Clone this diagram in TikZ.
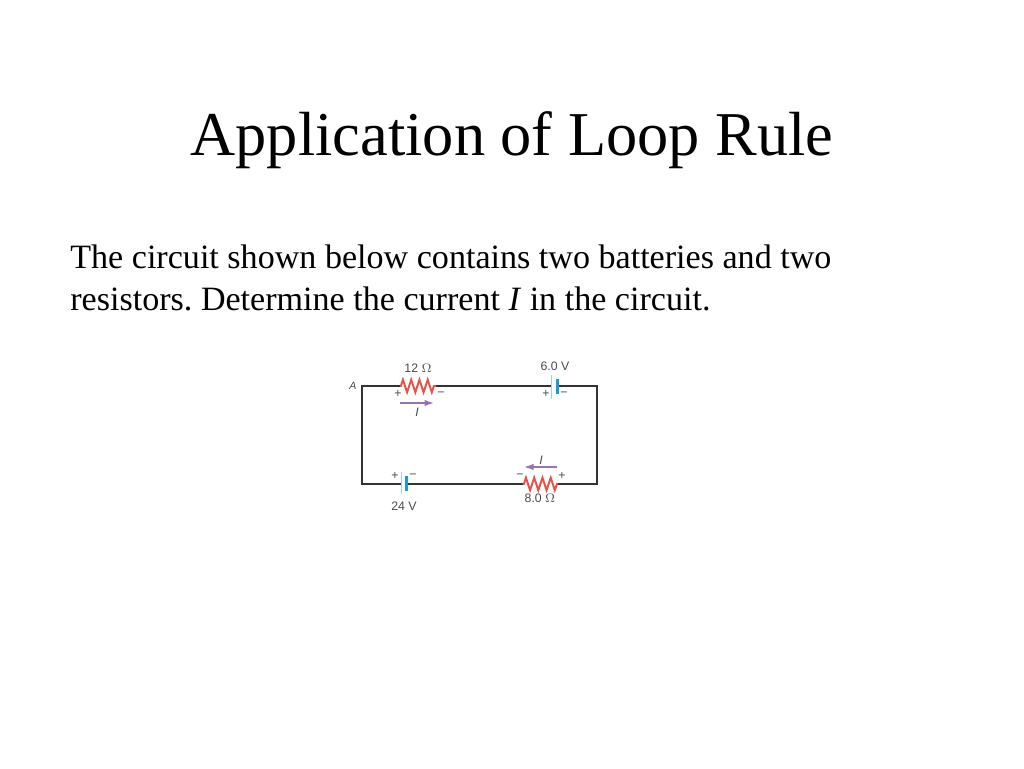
\documentclass[tikz,border=0pt]{standalone}
\usepackage{fontspec}
\setmainfont{Liberation Serif}
\newfontfamily\figfont{Liberation Sans}
\usetikzlibrary{arrows.meta,decorations.pathmorphing}
\definecolor{wirecol}{HTML}{333333}
\definecolor{rescol}{HTML}{E8504A}
\definecolor{thincol}{HTML}{9AD3EE}
\definecolor{thickcol}{HTML}{1E9AD0}
\definecolor{curcol}{HTML}{9A72B0}
\definecolor{figtext}{HTML}{4A4A4A}
\tikzset{>={Latex[length=2mm,width=1.5mm]}}
\tikzset{
  wire/.style = {draw=wirecol, line width=0.8pt, line join=miter},
  resistor/.style = {draw=rescol, line width=1.1pt, decorate, decoration={zigzag, segment length=4.7pt, amplitude=3.6pt, pre length=0.5pt, post length=0.5pt}},
  platethin/.style = {draw=thincol, line width=0.9pt},
  platethick/.style = {draw=thickcol, line width=1.7pt},
  current/.style = {draw=curcol, line width=0.8pt, ->, >={Latex[length=1.9mm,width=1.3mm]}},
  figlabel/.style = {text=figtext, font=\figfont\fontsize{7}{8}\selectfont, inner sep=0pt},
  signlabel/.style = {text=figtext, font=\figfont\fontsize{7}{8}\selectfont, inner sep=0pt},
  pxgrid/.style = {x=0.02cm, y=-0.02cm}
}
\begin{document}
\frenchspacing
\begin{tikzpicture}[pxgrid]
\useasboundingbox (0,0) rectangle (1024,768);
% slide text
\node[inner sep=0pt] (title) at (512,140) {\fontsize{35.5}{40}\selectfont Application of Loop Rule};
\node[inner sep=0pt, anchor=base west] (line1) at (70,268) {\fontsize{19.4}{22}\selectfont The circuit shown below contains two batteries and two};
\node[inner sep=0pt, anchor=base west] (line2) at (70,310) {\fontsize{19.4}{22}\selectfont resistors. Determine the current \textit{I} in the circuit.};
% corners and terminals
\coordinate (A) at (362,386);
\coordinate (B) at (597,386);
\coordinate (C) at (597,484);
\coordinate (D) at (362,484);
\coordinate (r1a) at (400,386);
\coordinate (r1b) at (436,386);
\coordinate (r2a) at (558,484);
\coordinate (r2b) at (523,484);
\coordinate (b1a) at (551.5,386);
\coordinate (b1b) at (557.5,386);
\coordinate (b2a) at (401.5,484);
\coordinate (b2b) at (406.5,484);
% wires
\draw[wire] (r1a) -- (A) -- (D) -- (b2a);
\draw[wire] (b2b) -- (r2b);
\draw[wire] (r2a) -- (C) -- (B) -- (b1b);
\draw[wire] (b1a) -- (r1b);
% resistors
\draw[resistor] (r1a) -- (r1b);
\draw[resistor] (r2b) -- (r2a);
% batteries
\draw[platethin] (551.5,375) -- (551.5,399);
\draw[platethick] (557.5,379) -- (557.5,394);
\draw[platethin] (401.5,472) -- (401.5,494);
\draw[platethick] (406.5,476) -- (406.5,491);
% currents
\coordinate (i1a) at (400,403);
\coordinate (i1b) at (434,403);
\coordinate (i2a) at (557,467);
\coordinate (i2b) at (524,467);
\draw[current] (i1a) -- (i1b);
\draw[current] (i2a) -- (i2b);
% labels
\node[figlabel] (la) at (353,386) {\fontsize{6}{6}\selectfont\textit{A}};
\node[figlabel] (lr1) at (418,368) {12 $\Omega$};
\node[figlabel] (lb1) at (555,366) {6.0 V};
\node[figlabel] (lb2) at (404,506) {24 V};
\node[figlabel] (lr2) at (540,498) {8.0 $\Omega$};
\node[figlabel] (li1) at (417,412) {\textit{I}};
\node[figlabel] (li2) at (541,460) {\textit{I}};
\node[signlabel] (p1) at (398,394) {+};
\node[signlabel] (m1) at (441,394) {\textminus};
\node[signlabel] (p2) at (546,394) {+};
\node[signlabel] (m2) at (564,394) {\textminus};
\node[signlabel] (p3) at (395,476) {+};
\node[signlabel] (m3) at (413,476) {\textminus};
\node[signlabel] (p4) at (562,476) {+};
\node[signlabel] (m4) at (520,476) {\textminus};
\end{tikzpicture}
\end{document}
